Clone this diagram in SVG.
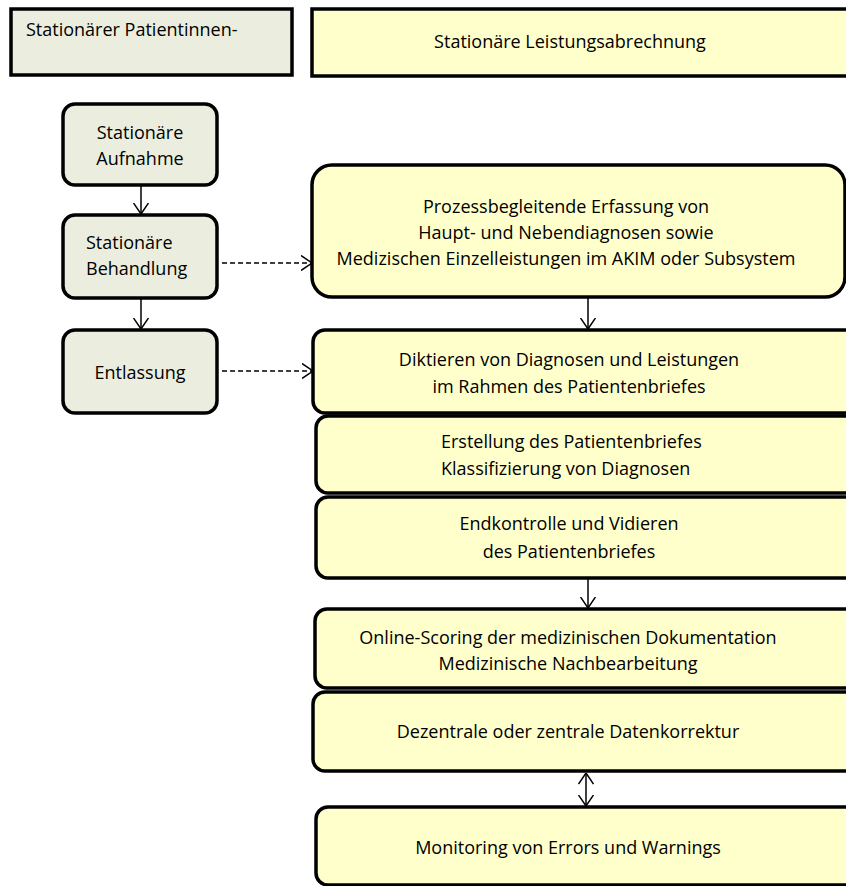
<svg xmlns="http://www.w3.org/2000/svg" width="846" height="886" viewBox="0 0 846 886">
<defs>
<marker id="arr" viewBox="0 0 12 16" refX="11.5" refY="8" markerWidth="12" markerHeight="16" markerUnits="userSpaceOnUse" orient="auto-start-reverse">
<path d="M0.5,0.5 L11.5,8 L0.5,15.5" fill="none" stroke="#000" stroke-width="1.5"/>
</marker>
</defs>
<style>
.l{fill:#EBEEDE;stroke:#000;stroke-width:3.5}
.r{fill:#FFFFCC;stroke:#000;stroke-width:3.5}
text{font-family:"Open Sans","Liberation Sans",sans-serif;font-size:18px;fill:#000}
.c{text-anchor:middle}
.ln{stroke:#000;stroke-width:1.5;fill:none}
.d{stroke-dasharray:5,3}
</style>
<rect width="846" height="886" fill="#fff"/>
<g id="header-left">
<rect class="l" x="11" y="9" width="281" height="66"/>
<text x="26" y="36">Stationärer Patientinnen-</text>
</g>
<g id="header-right">
<rect class="r" x="312" y="9" width="550" height="67"/>
<text class="c" x="570" y="48">Stationäre Leistungsabrechnung</text>
</g>
<g id="aufnahme">
<rect class="l" x="63" y="104" width="154" height="81" rx="12"/>
<text class="c" x="140" y="139">Stationäre</text>
<text class="c" x="140" y="165">Aufnahme</text>
</g>
<g id="behandlung">
<rect class="l" x="63" y="215" width="154" height="83" rx="12"/>
<text x="86" y="249">Stationäre</text>
<text x="86" y="275">Behandlung</text>
</g>
<g id="entlassung">
<rect class="l" x="63" y="330" width="154" height="83" rx="12"/>
<text class="c" x="140" y="379">Entlassung</text>
</g>
<g id="prozess">
<rect class="r" x="312" y="165" width="533" height="132" rx="20"/>
<text class="c" x="566" y="213">Prozessbegleitende Erfassung von</text>
<text class="c" x="566" y="239">Haupt- und Nebendiagnosen sowie</text>
<text class="c" x="566" y="265">Medizischen Einzelleistungen im AKIM oder Subsystem</text>
</g>
<g id="diktieren">
<rect class="r" x="313" y="330" width="550" height="83" rx="12"/>
<text class="c" x="569" y="366">Diktieren von Diagnosen und Leistungen</text>
<text class="c" x="569" y="393">im Rahmen des Patientenbriefes</text>
</g>
<g id="erstellung">
<rect class="r" x="316" y="416" width="547" height="77" rx="12"/>
<text x="441" y="448">Erstellung des Patientenbriefes</text>
<text x="441" y="475">Klassifizierung von Diagnosen</text>
</g>
<g id="endkontrolle">
<rect class="r" x="316" y="497" width="547" height="81" rx="12"/>
<text class="c" x="569" y="530">Endkontrolle und Vidieren</text>
<text class="c" x="569" y="558">des Patientenbriefes</text>
</g>
<g id="online">
<rect class="r" x="315" y="609" width="548" height="79" rx="12"/>
<text class="c" x="568" y="644">Online-Scoring der medizinischen Dokumentation</text>
<text class="c" x="568" y="670">Medizinische Nachbearbeitung</text>
</g>
<g id="dezentrale">
<rect class="r" x="313" y="692" width="550" height="79" rx="12"/>
<text class="c" x="568" y="738">Dezentrale oder zentrale Datenkorrektur</text>
</g>
<g id="monitoring">
<rect class="r" x="316" y="807" width="547" height="78" rx="12"/>
<text class="c" x="568" y="854">Monitoring von Errors und Warnings</text>
</g>
<g id="connectors">
<line class="ln" x1="141" y1="186" x2="141" y2="214" marker-end="url(#arr)"/>
<line class="ln" x1="141" y1="299" x2="141" y2="329" marker-end="url(#arr)"/>
<line class="ln d" x1="222" y1="263" x2="312" y2="263" marker-end="url(#arr)"/>
<line class="ln d" x1="222" y1="371" x2="313" y2="371" marker-end="url(#arr)"/>
<line class="ln" x1="588" y1="298" x2="588" y2="329" marker-end="url(#arr)"/>
<line class="ln" x1="588" y1="579" x2="588" y2="608" marker-end="url(#arr)"/>
<line class="ln" x1="586" y1="773" x2="586" y2="806" marker-start="url(#arr)" marker-end="url(#arr)"/>
</g>
</svg>
